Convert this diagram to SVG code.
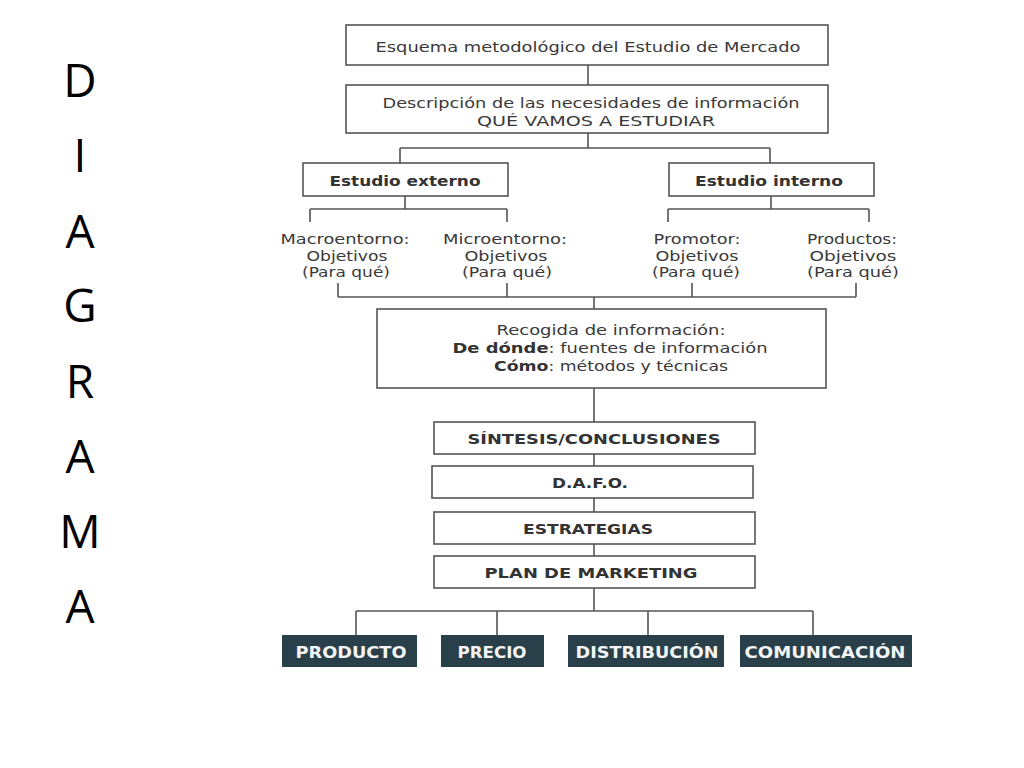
<svg xmlns="http://www.w3.org/2000/svg" width="1024" height="768" viewBox="0 0 1024 768">
<style>
.box{fill:#fff;stroke:#555;stroke-width:1.6}
.dark{fill:#29404a;stroke:none}
.t{font-family:"DejaVu Sans",sans-serif;font-size:14.5px;fill:#3a3a3a;text-anchor:middle}
.b{font-family:"DejaVu Sans",sans-serif;font-size:14.5px;font-weight:bold;fill:#333;text-anchor:middle}
.w{font-family:"DejaVu Sans",sans-serif;font-size:15px;font-weight:bold;fill:#f4f4f4;text-anchor:middle}
.side{font-family:"Open Sans","Noto Sans",sans-serif;font-size:46px;fill:#000;text-anchor:middle}
.ln{stroke:#555;stroke-width:1.6;fill:none}
</style>
<rect width="1024" height="768" fill="#fff"/>
<g id="title-side">
<text class="side" x="80" y="97">D</text>
<text class="side" x="80" y="172">I</text>
<text class="side" x="80" y="248">A</text>
<text class="side" x="80" y="322">G</text>
<text class="side" x="80" y="398">R</text>
<text class="side" x="80" y="473">A</text>
<text class="side" x="80" y="548">M</text>
<text class="side" x="80" y="623">A</text>
</g>
<g id="connectors">
<path class="ln" d="M588 65V85M588 133V148M400 148H770M400 148V163M770 148V163"/>
<path class="ln" d="M405 196V209M310 209H507M310 209V222M507 209V222"/>
<path class="ln" d="M771 196V209M668 209H869M668 209V222M869 209V222"/>
<path class="ln" d="M338 283V297M507 283V297M692 283V297M856 283V297M338 297H856M594 297V309"/>
<path class="ln" d="M594 388V422M594 454V466M594 498V512M594 544V556M594 588V611M356 611H813M356 611V635M497 611V635M648 611V635M813 611V635"/>
</g>
<g id="n-esquema">
<rect class="box" x="346" y="25" width="482" height="40"/>
<text class="t" x="588" y="52" textLength="425" lengthAdjust="spacingAndGlyphs">Esquema metodológico del Estudio de Mercado</text>
</g>
<g id="n-descripcion">
<rect class="box" x="346" y="85" width="482" height="48"/>
<text class="t" x="591" y="108" textLength="417" lengthAdjust="spacingAndGlyphs">Descripción de las necesidades de información</text>
<text class="t" x="596" y="126" textLength="238" lengthAdjust="spacingAndGlyphs">QUÉ VAMOS A ESTUDIAR</text>
</g>
<g id="n-externo">
<rect class="box" x="303" y="163" width="205" height="33"/>
<text class="b" x="405" y="186" textLength="151" lengthAdjust="spacingAndGlyphs">Estudio externo</text>
</g>
<g id="n-interno">
<rect class="box" x="669" y="163" width="205" height="33"/>
<text class="b" x="769" y="186" textLength="148" lengthAdjust="spacingAndGlyphs">Estudio interno</text>
</g>
<g id="n-macro">
<text class="t" x="345" y="244" textLength="129" lengthAdjust="spacingAndGlyphs">Macroentorno:</text>
<text class="t" x="347" y="261" textLength="81" lengthAdjust="spacingAndGlyphs">Objetivos</text>
<text class="t" x="346" y="277" textLength="88" lengthAdjust="spacingAndGlyphs">(Para qué)</text>
</g>
<g id="n-micro">
<text class="t" x="505" y="244" textLength="124" lengthAdjust="spacingAndGlyphs">Microentorno:</text>
<text class="t" x="506" y="261" textLength="83" lengthAdjust="spacingAndGlyphs">Objetivos</text>
<text class="t" x="507" y="277" textLength="90" lengthAdjust="spacingAndGlyphs">(Para qué)</text>
</g>
<g id="n-promotor">
<text class="t" x="697" y="244" textLength="87" lengthAdjust="spacingAndGlyphs">Promotor:</text>
<text class="t" x="697" y="261" textLength="83" lengthAdjust="spacingAndGlyphs">Objetivos</text>
<text class="t" x="696" y="277" textLength="88" lengthAdjust="spacingAndGlyphs">(Para qué)</text>
</g>
<g id="n-productos">
<text class="t" x="852" y="244" textLength="90" lengthAdjust="spacingAndGlyphs">Productos:</text>
<text class="t" x="853" y="261" textLength="87" lengthAdjust="spacingAndGlyphs">Objetivos</text>
<text class="t" x="853" y="277" textLength="92" lengthAdjust="spacingAndGlyphs">(Para qué)</text>
</g>
<g id="n-recogida">
<rect class="box" x="377" y="309" width="449" height="79"/>
<text class="t" x="611" y="335" textLength="229" lengthAdjust="spacingAndGlyphs">Recogida de información:</text>
<text class="t" x="610" y="353" textLength="315" lengthAdjust="spacingAndGlyphs"><tspan font-weight="bold" fill="#333">De dónde</tspan>: fuentes de información</text>
<text class="t" x="611" y="371" textLength="234" lengthAdjust="spacingAndGlyphs"><tspan font-weight="bold" fill="#333">Cómo</tspan>: métodos y técnicas</text>
</g>
<g id="n-sintesis">
<rect class="box" x="434" y="422" width="321" height="32"/>
<text class="b" x="594" y="444" textLength="253" lengthAdjust="spacingAndGlyphs">SÍNTESIS/CONCLUSIONES</text>
</g>
<g id="n-dafo">
<rect class="box" x="432" y="466" width="321" height="32"/>
<text class="b" x="590" y="488" textLength="76" lengthAdjust="spacingAndGlyphs">D.A.F.O.</text>
</g>
<g id="n-estrategias">
<rect class="box" x="434" y="512" width="321" height="32"/>
<text class="b" x="588" y="534" textLength="130" lengthAdjust="spacingAndGlyphs">ESTRATEGIAS</text>
</g>
<g id="n-plan">
<rect class="box" x="434" y="556" width="321" height="32"/>
<text class="b" x="591" y="578" textLength="213" lengthAdjust="spacingAndGlyphs">PLAN DE MARKETING</text>
</g>
<g id="n-producto">
<rect class="dark" x="282" y="635" width="135" height="32"/>
<text class="w" x="351" y="658" textLength="111" lengthAdjust="spacingAndGlyphs">PRODUCTO</text>
</g>
<g id="n-precio">
<rect class="dark" x="441" y="635" width="103" height="32"/>
<text class="w" x="492" y="658" textLength="69" lengthAdjust="spacingAndGlyphs">PRECIO</text>
</g>
<g id="n-distribucion">
<rect class="dark" x="568" y="635" width="156" height="32"/>
<text class="w" x="647" y="658" textLength="143" lengthAdjust="spacingAndGlyphs">DISTRIBUCIÓN</text>
</g>
<g id="n-comunicacion">
<rect class="dark" x="740" y="635" width="172" height="32"/>
<text class="w" x="825" y="658" textLength="161" lengthAdjust="spacingAndGlyphs">COMUNICACIÓN</text>
</g>
</svg>
